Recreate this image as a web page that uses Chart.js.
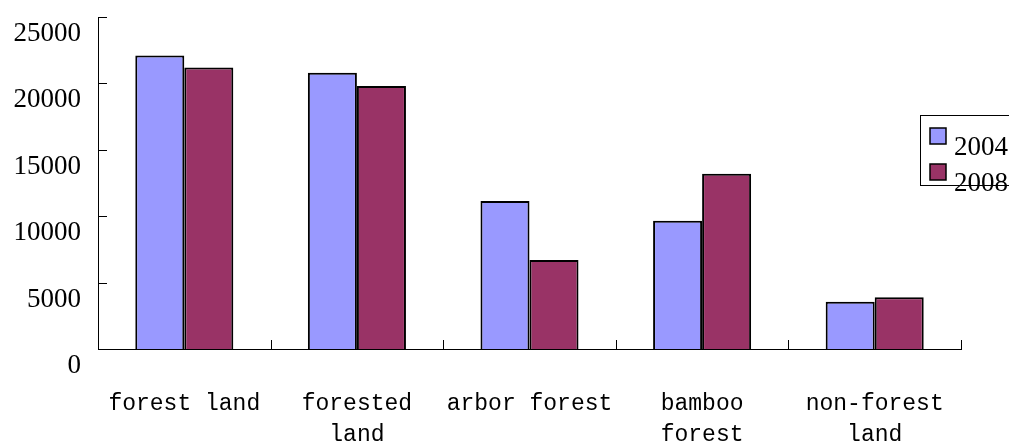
<!DOCTYPE html>
<html>
<head>
<meta charset="utf-8">
<script src="https://cdn.jsdelivr.net/npm/chart.js@4/dist/chart.umd.min.js"></script>
<style>
  html, body { margin: 0; padding: 0; background: #fff; }
  #wrap { width: 1009px; height: 443px; }
</style>
</head>
<body>
<div id="wrap"><canvas id="landChart"></canvas></div>
<script>
const categories = [["forest land"], ["forested", "land"], ["arbor forest"], ["bamboo", "forest"], ["non-forest", "land"]];
const years = ["2004", "2008"];
const values2004 = [22100, 20800, 11150, 9650, 3550];
const values2008 = [21200, 19800, 6700, 13200, 3900];
const yTicks = [0, 5000, 10000, 15000, 20000, 25000];

// inward tick marks on both axes, like the old spreadsheet style
const innerTicks = {
  id: "innerTicks",
  afterDraw(chart) {
    const c = chart.ctx;
    const area = chart.chartArea;
    const x = chart.scales.x;
    const y = chart.scales.y;
    c.save();
    c.strokeStyle = "#000";
    c.lineWidth = 1;
    c.beginPath();
    yTicks.forEach(v => {
      const py = Math.round(y.getPixelForValue(v)) + 0.5;
      c.moveTo(area.left, py);
      c.lineTo(area.left + 9, py);
    });
    const n = chart.data.labels.length;
    const step = x.getPixelForValue(1) - x.getPixelForValue(0);
    for (let i = 1; i <= n; i++) {
      const px = Math.round(x.getPixelForValue(i - 1) + step / 2) + 0.5;
      c.moveTo(px, area.bottom);
      c.lineTo(px, area.bottom - 9);
    }
    c.stroke();
    c.restore();
  }
};

// legend box drawn by hand at the right edge
const sideLegend = {
  id: "sideLegend",
  afterDraw(chart) {
    const c = chart.ctx;
    c.save();
    c.fillStyle = "#fff";
    c.fillRect(920, 115, 100, 71);
    c.strokeStyle = "#000";
    c.lineWidth = 1;
    c.strokeRect(920.5, 115.5, 100, 70);
    chart.data.datasets.forEach((ds, i) => {
      const top = 128 + i * 36;
      c.fillStyle = ds.backgroundColor;
      c.fillRect(930, top, 16, 16);
      c.strokeStyle = "#000";
      c.lineWidth = 1.5;
      c.strokeRect(930, top, 16, 16);
      c.fillStyle = "#000";
      c.font = "27px 'Liberation Serif'";
      c.textBaseline = "middle";
      c.fillText(ds.label, 954, top + 20);
    });
    c.restore();
  }
};

const ctx = document.getElementById("landChart");
new Chart(ctx, {
  type: "bar",
  data: {
    labels: categories,
    datasets: [
      {
        label: years[0],
        data: values2004,
        backgroundColor: "#9999FF",
        borderColor: "#000",
        borderWidth: 2,
        categoryPercentage: 0.568,
        barPercentage: 1.0
      },
      {
        label: years[1],
        data: values2008,
        backgroundColor: "#993366",
        borderColor: "#000",
        borderWidth: 2,
        categoryPercentage: 0.568,
        barPercentage: 1.0
      }
    ]
  },
  options: {
    responsive: true,
    maintainAspectRatio: false,
    animation: false,
    layout: { padding: { top: 17, right: 48, left: 0, bottom: 0 } },
    plugins: {
      legend: { display: false },
      tooltip: { enabled: false }
    },
    scales: {
      x: {
        grid: { display: false },
        border: { display: true, color: "#000", width: 1 },
        ticks: {
          color: "#000",
          font: { family: "'Liberation Mono'", size: 23, lineHeight: 1.35 },
          padding: 31,
          maxRotation: 0,
          autoSkip: false
        },
        afterFit(scale) {
          scale.height = 94;
          scale.paddingLeft = 0;
          scale.paddingRight = 0;
        }
      },
      y: {
        min: 0,
        max: 25000,
        grid: { display: false, drawTicks: false },
        border: { display: true, color: "#000", width: 1 },
        ticks: {
          stepSize: 5000,
          color: "#000",
          font: { family: "'Liberation Serif'", size: 27 },
          padding: 17,
          labelOffset: 17,
          callback: v => String(v)
        },
        afterFit(scale) {
          scale.width = 98;
          scale.paddingTop = 0;
          scale.paddingBottom = 0;
        }
      }
    }
  },
  plugins: [innerTicks, sideLegend]
});
</script>
</body>
</html>
